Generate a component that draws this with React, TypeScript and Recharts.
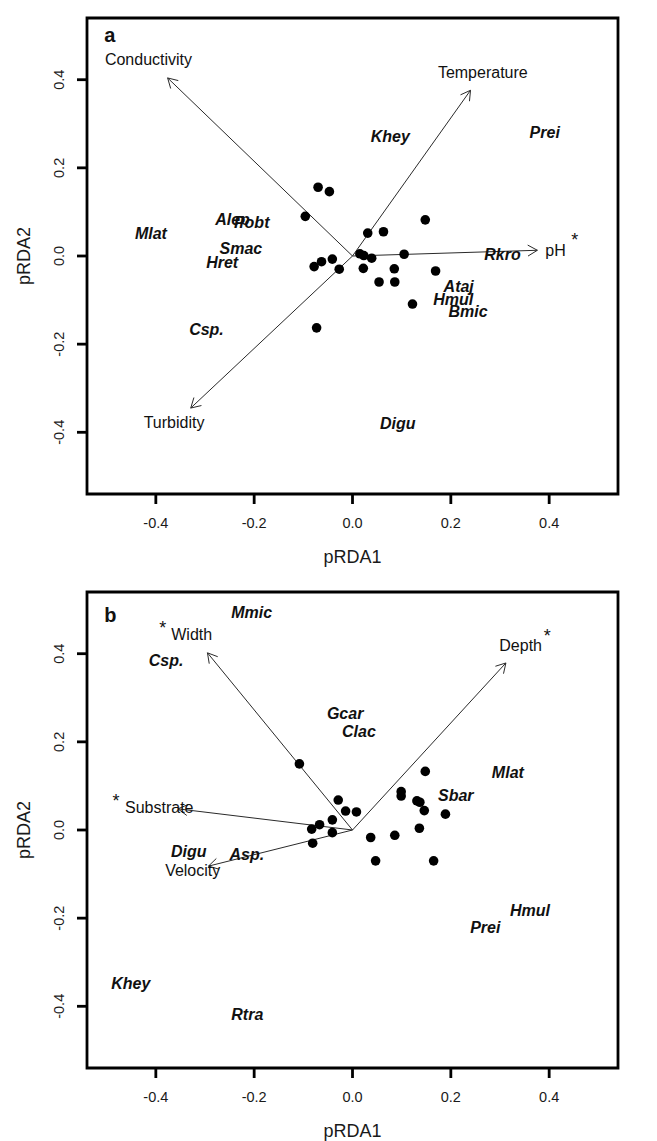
import React from "react";
import { ScatterChart, Scatter, XAxis, YAxis, ReferenceLine, ReferenceArea } from "recharts";

const FONT = '"Liberation Sans", Arial, Helvetica, sans-serif';

// shared axis settings
const axisTicks = [-0.4, -0.2, 0, 0.2, 0.4];
const zeroTick = [0];
const axisDomain: [number, number] = [-0.54, 0.54];
const xTitle = "pRDA1";
const yTitle = "pRDA2";

// ---------- Panel a ----------
const panelALetter = [{ x: -0.505, y: 0.486, label: "a" }];
const sitesA = [
  { x: -0.07, y: 0.156 }, { x: -0.047, y: 0.146 }, { x: -0.096, y: 0.09 }, { x: 0.148, y: 0.082 },
  { x: 0.031, y: 0.052 }, { x: 0.063, y: 0.055 }, { x: 0.015, y: 0.005 }, { x: 0.023, y: 0.001 },
  { x: 0.039, y: -0.005 }, { x: 0.105, y: 0.004 }, { x: -0.063, y: -0.013 }, { x: -0.041, y: -0.007 },
  { x: -0.078, y: -0.024 }, { x: -0.027, y: -0.03 }, { x: 0.022, y: -0.028 }, { x: 0.085, y: -0.029 },
  { x: 0.169, y: -0.034 }, { x: 0.054, y: -0.059 }, { x: 0.086, y: -0.059 }, { x: 0.122, y: -0.109 },
  { x: -0.073, y: -0.163 },
];
const arrowsA = [
  { name: "Conductivity", x: -0.376, y: 0.404 },
  { name: "Temperature", x: 0.24, y: 0.376 },
  { name: "pH", x: 0.376, y: 0.013 },
  { name: "Turbidity", x: -0.329, y: -0.345 },
];
const arrowLabelsA = [
  { label: "Conductivity", x: -0.415, y: 0.447 },
  { label: "Temperature", x: 0.265, y: 0.416 },
  { label: "pH", x: 0.413, y: 0.013 },
  { label: "Turbidity", x: -0.363, y: -0.377 },
];
const starsA = [{ x: 0.452, y: 0.048, label: "*" }];
const speciesA = [
  { label: "Khey", x: 0.077, y: 0.271 },
  { label: "Prei", x: 0.391, y: 0.28 },
  { label: "Mlat", x: -0.41, y: 0.052 },
  { label: "Alep", x: -0.244, y: 0.084 },
  { label: "Pobt", x: -0.205, y: 0.076 },
  { label: "Smac", x: -0.227, y: 0.017 },
  { label: "Hret", x: -0.265, y: -0.014 },
  { label: "Rkro", x: 0.305, y: 0.005 },
  { label: "Ataj", x: 0.216, y: -0.069 },
  { label: "Hmul", x: 0.205, y: -0.097 },
  { label: "Bmic", x: 0.235, y: -0.126 },
  { label: "Csp.", x: -0.297, y: -0.166 },
  { label: "Digu", x: 0.092, y: -0.38 },
];

// ---------- Panel b ----------
const panelBLetter = [{ x: -0.505, y: 0.471, label: "b" }];
const sitesB = [
  { x: -0.108, y: 0.15 }, { x: 0.148, y: 0.133 }, { x: -0.029, y: 0.068 }, { x: 0.099, y: 0.087 },
  { x: 0.099, y: 0.077 }, { x: 0.131, y: 0.066 }, { x: 0.137, y: 0.063 }, { x: 0.146, y: 0.044 },
  { x: 0.189, y: 0.036 }, { x: -0.014, y: 0.043 }, { x: 0.008, y: 0.041 }, { x: -0.041, y: 0.023 },
  { x: -0.067, y: 0.012 }, { x: -0.083, y: 0.002 }, { x: -0.041, y: -0.006 }, { x: 0.136, y: 0.004 },
  { x: -0.081, y: -0.03 }, { x: 0.037, y: -0.017 }, { x: 0.086, y: -0.012 }, { x: 0.047, y: -0.07 },
  { x: 0.165, y: -0.07 },
];
const arrowsB = [
  { name: "Width", x: -0.295, y: 0.402 },
  { name: "Depth", x: 0.312, y: 0.379 },
  { name: "Substrate", x: -0.355, y: 0.048 },
  { name: "Velocity", x: -0.293, y: -0.082 },
];
const arrowLabelsB = [
  { label: "Width", x: -0.327, y: 0.445 },
  { label: "Depth", x: 0.342, y: 0.42 },
  { label: "Substrate", x: -0.393, y: 0.052 },
  { label: "Velocity", x: -0.325, y: -0.092 },
];
const starsB = [
  { x: -0.386, y: 0.47, label: "*" },
  { x: 0.396, y: 0.451, label: "*" },
  { x: -0.481, y: 0.077, label: "*" },
];
const speciesB = [
  { label: "Mmic", x: -0.205, y: 0.495 },
  { label: "Csp.", x: -0.379, y: 0.386 },
  { label: "Gcar", x: -0.015, y: 0.265 },
  { label: "Clac", x: 0.013, y: 0.223 },
  { label: "Mlat", x: 0.316, y: 0.131 },
  { label: "Sbar", x: 0.21, y: 0.08 },
  { label: "Digu", x: -0.333, y: -0.049 },
  { label: "Asp.", x: -0.215, y: -0.055 },
  { label: "Hmul", x: 0.361, y: -0.183 },
  { label: "Prei", x: 0.27, y: -0.221 },
  { label: "Khey", x: -0.451, y: -0.348 },
  { label: "Rtra", x: -0.214, y: -0.418 },
];

// ---------- renderers ----------
const fmt = (v: number) => v.toFixed(1);
const TICK_FS = 14.5;

const LeftTick = (props: any) => {
  const { x, y, payload } = props;
  return (
    <text x={x} y={y} transform={`rotate(-90, ${x}, ${y})`} textAnchor="middle" fontSize={TICK_FS} fontFamily={FONT} fill="#1a1a1a">
      {fmt(payload.value)}
    </text>
  );
};
const RightTick = (props: any) => {
  const { x, y, payload } = props;
  return (
    <text x={x} y={y} transform={`rotate(-90, ${x}, ${y})`} textAnchor="middle" fontSize={TICK_FS} fontFamily={FONT} fill="#1a1a1a">
      {String(payload.value)}
    </text>
  );
};
const BottomTick = (props: any) => {
  const { x, y, payload } = props;
  return (
    <text x={x} y={y} dy="0.71em" textAnchor="middle" fontSize={TICK_FS} fontFamily={FONT} fill="#1a1a1a">
      {fmt(payload.value)}
    </text>
  );
};
const EmptyTick = () => <g />;

const XTitle = (props: any) => {
  const vb = props.viewBox || {};
  return (
    <text x={vb.x + vb.width / 2} y={vb.y + 69} textAnchor="middle" fontSize={18} fontFamily={FONT} fill="#1a1a1a">
      {xTitle}
    </text>
  );
};
const YTitle = (props: any) => {
  const vb = props.viewBox || {};
  const x = vb.x + 3;
  const y = vb.y + vb.height / 2;
  return (
    <text x={x} y={y} transform={`rotate(-90, ${x}, ${y})`} textAnchor="middle" fontSize={18} fontFamily={FONT} fill="#1a1a1a">
      {yTitle}
    </text>
  );
};

const ArrowShape = (props: any) => {
  const { x1, y1, x2, y2 } = props;
  const ang = Math.atan2(y2 - y1, x2 - x1);
  const len = 11;
  const spread = (30 * Math.PI) / 180;
  const ax = x2 - len * Math.cos(ang - spread);
  const ay = y2 - len * Math.sin(ang - spread);
  const bx = x2 - len * Math.cos(ang + spread);
  const by = y2 - len * Math.sin(ang + spread);
  return (
    <g>
      <line x1={x1} y1={y1} x2={x2} y2={y2} stroke="#2a2a2a" strokeWidth={1} />
      <polyline points={`${ax},${ay} ${x2},${y2} ${bx},${by}`} fill="none" stroke="#2a2a2a" strokeWidth={1} />
    </g>
  );
};

const Dot = (props: any) => <circle cx={props.cx} cy={props.cy} r={4.8} fill="#000" />;

const SpeciesText = (props: any) => (
  <text x={props.cx} y={props.cy} dy="0.36em" textAnchor="middle" fontSize={16} fontWeight="bold" fontStyle="italic" fontFamily={FONT} fill="#111">
    {props.payload.label}
  </text>
);
const EnvText = (props: any) => (
  <text x={props.cx} y={props.cy} dy="0.36em" textAnchor="middle" fontSize={16} fontFamily={FONT} fill="#111">
    {props.payload.label}
  </text>
);
const StarText = (props: any) => (
  <text x={props.cx} y={props.cy} dy="0.62em" textAnchor="middle" fontSize={18} fontFamily={FONT} fill="#111">
    {props.payload.label}
  </text>
);
const LetterText = (props: any) => (
  <text x={props.cx} y={props.cy} textAnchor="start" fontSize={20} fontWeight="bold" fontFamily={FONT} fill="#111">
    {props.payload.label}
  </text>
);

type Pt = { x: number; y: number };
type PanelProps = {
  height: number;
  topAxisHeight: number;
  bottomAxisHeight: number;
  letter: any[];
  sites: Pt[];
  arrows: { name: string; x: number; y: number }[];
  arrowLabels: any[];
  stars: any[];
  species: any[];
};

const TICK_LINE = { stroke: "#000", strokeWidth: 2.8 };

function Panel(p: PanelProps) {
  const ax = { xAxisId: "b", yAxisId: "l" } as const;
  return (
    <ScatterChart width={657} height={p.height} margin={{ top: 0, right: 0, bottom: 0, left: 27 }}>
      <XAxis
        xAxisId="b"
        type="number"
        dataKey="x"
        orientation="bottom"
        domain={axisDomain}
        ticks={axisTicks}
        interval={0}
        height={p.bottomAxisHeight}
        axisLine={false}
        tickSize={10}
        tickMargin={14}
        tickLine={TICK_LINE}
        tick={BottomTick}
        label={XTitle}
      />
      <XAxis
        xAxisId="t"
        type="number"
        dataKey="x"
        orientation="top"
        domain={axisDomain}
        ticks={zeroTick}
        interval={0}
        height={p.topAxisHeight}
        axisLine={false}
        tickSize={10}
        tickLine={TICK_LINE}
        tick={EmptyTick}
      />
      <YAxis
        yAxisId="l"
        type="number"
        dataKey="y"
        orientation="left"
        domain={axisDomain}
        ticks={axisTicks}
        interval={0}
        width={60}
        axisLine={false}
        tickSize={10}
        tickMargin={13}
        tickLine={TICK_LINE}
        tick={LeftTick}
        label={YTitle}
      />
      <YAxis
        yAxisId="r"
        type="number"
        dataKey="y"
        orientation="right"
        domain={axisDomain}
        ticks={zeroTick}
        interval={0}
        width={39}
        axisLine={false}
        tickSize={10}
        tickMargin={22}
        tickLine={TICK_LINE}
        tick={RightTick}
      />
      <ReferenceArea {...ax} x1={axisDomain[0]} x2={axisDomain[1]} y1={axisDomain[0]} y2={axisDomain[1]} fill="none" fillOpacity={0} stroke="#000" strokeWidth={2.8} ifOverflow="visible" />
      {p.arrows.map((a) => (
        <ReferenceLine key={a.name} {...ax} segment={[{ x: 0, y: 0 }, { x: a.x, y: a.y }]} shape={ArrowShape} ifOverflow="visible" />
      ))}
      <Scatter {...ax} data={p.sites} shape={Dot} isAnimationActive={false} />
      <Scatter {...ax} data={p.arrowLabels} shape={EnvText} isAnimationActive={false} />
      <Scatter {...ax} data={p.stars} shape={StarText} isAnimationActive={false} />
      <Scatter {...ax} data={p.species} shape={SpeciesText} isAnimationActive={false} />
      <Scatter {...ax} data={p.letter} shape={LetterText} isAnimationActive={false} />
    </ScatterChart>
  );
}

export default function App() {
  return (
    <div style={{ position: "absolute", left: 0, top: 0, width: 657, height: 1141, background: "#fff" }}>
      <Panel
        height={570}
        topAxisHeight={18}
        bottomAxisHeight={76}
        letter={panelALetter}
        sites={sitesA}
        arrows={arrowsA}
        arrowLabels={arrowLabelsA}
        stars={starsA}
        species={speciesA}
      />
      <Panel
        height={571}
        topAxisHeight={22}
        bottomAxisHeight={73}
        letter={panelBLetter}
        sites={sitesB}
        arrows={arrowsB}
        arrowLabels={arrowLabelsB}
        stars={starsB}
        species={speciesB}
      />
    </div>
  );
}
